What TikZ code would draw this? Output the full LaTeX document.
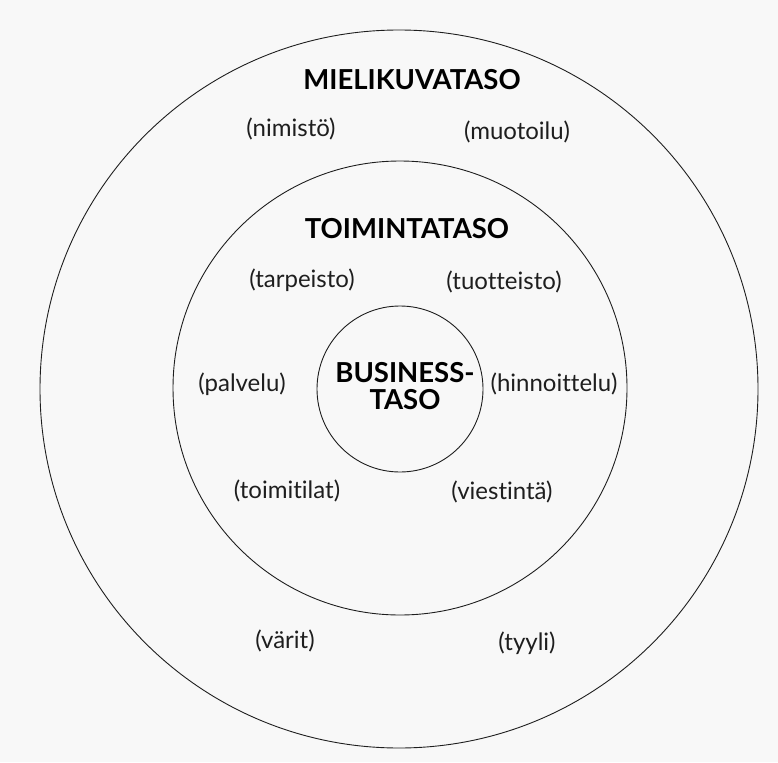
\documentclass[tikz,border=0pt]{standalone}
\usepackage{fontspec}
\setmainfont{Lato}[Ligatures={NoCommon}]
\definecolor{bgc}{RGB}{248,248,248}
\definecolor{ink}{RGB}{30,30,30}
\tikzset{
  ring/.style={draw=ink, line width=0.9pt},
  head/.style={font=\fontsize{27.5}{26}\selectfont\bfseries, text=black, inner sep=0pt, align=center},
  lbl/.style={font=\fontsize{24}{26}\selectfont, text=ink, inner sep=0pt}
}
\begin{document}
\begin{tikzpicture}[x=1pt,y=-1pt]
\fill[bgc] (0,0) rectangle (778,762);
\useasboundingbox (0,0) rectangle (778,762);
\node[ring, circle, minimum size=718pt, inner sep=0pt] (outer) at (399,389) {};
\node[ring, circle, minimum size=454pt, inner sep=0pt] (middle) at (400,388) {};
\node[ring, circle, minimum size=166pt, inner sep=0pt] (inner) at (400,389) {};
\node[head] (mieli) at (412,80) {MIELIKUVATASO};
\node[lbl] (nimisto) at (291,129) {(nimistö)};
\node[lbl] (muotoilu) at (517,132) {(muotoilu)};
\node[head] (toiminta) at (407,229) {TOIMINTATASO};
\node[lbl] (tarpeisto) at (302,280) {(tarpeisto)};
\node[lbl] (tuotteisto) at (504,282) {(tuotteisto)};
\node[head] (business) at (405,373) {BUSINESS-};
\node[head] (taso) at (405,400) {TASO};
\node[lbl] (palvelu) at (242,384) {(palvelu)};
\node[lbl] (hinnoittelu) at (554,384) {(hinnoittelu)};
\node[lbl] (toimitilat) at (287,491) {(toimitilat)};
\node[lbl] (viestinta) at (502,492) {(viestintä)};
\node[lbl] (varit) at (285,641) {(värit)};
\node[lbl] (tyyli) at (527,643) {(tyyli)};
\end{tikzpicture}
\end{document}
